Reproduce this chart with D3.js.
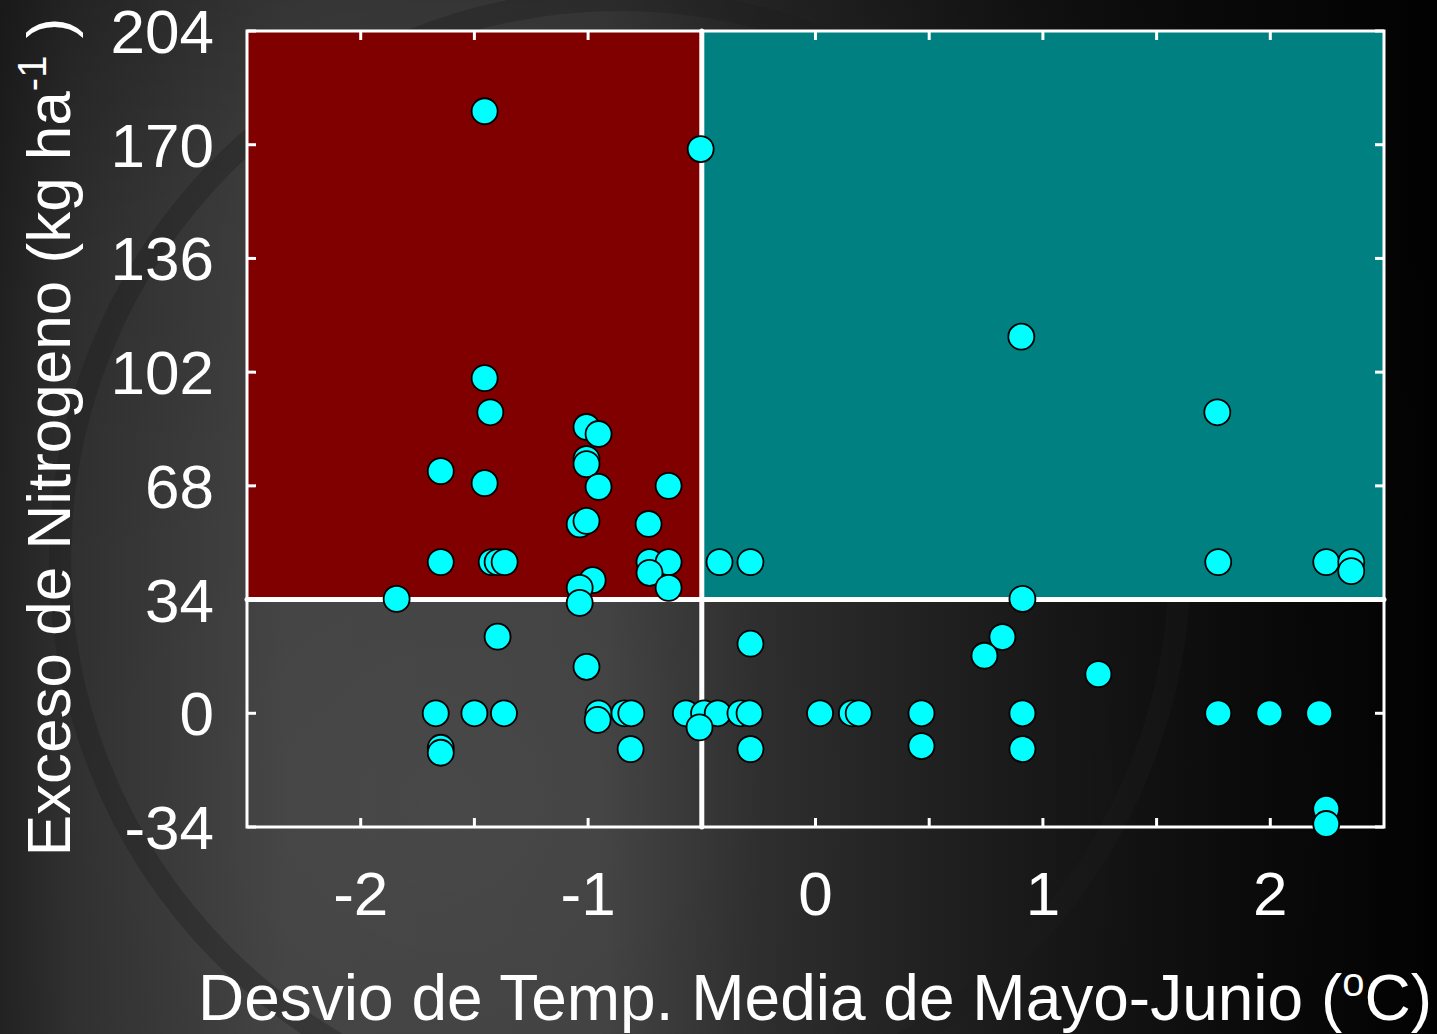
<!DOCTYPE html>
<html>
<head>
<meta charset="utf-8">
<script src="https://cdn.jsdelivr.net/npm/d3@7"></script>
<style>
  body { margin: 0; background: #000; }
  svg { display: block; }
  text { font-family: "Liberation Sans", Arial, sans-serif; fill: #fff; }
</style>
</head>
<body>
<div id="chart"></div>
<script>
// temperature deviation (x) and nitrogen excess (y) per site
const tempDev = [
  -1.455, -0.505, 0.905, 1.767, -1.455, -1.43, -1.007, -0.954, -1.648, -1.455,
  -1.007, -1.007, -0.954, -0.646, -1.037, -1.007, -0.734,
  -1.648, -1.424, -1.398, -1.367, -0.73, -0.646, -0.73, -0.646,
  -0.98, -1.037, -1.037, -1.842,
  -0.422, -0.286, 0.91, -0.286, 0.822, 0.743, -1.398, -1.007, 1.244,
  -1.67, -1.5, -1.37, -0.954, -0.84, -0.81, -0.57, -0.49, -0.43, -0.33, -0.29,
  0.02, 0.16, 0.19, 0.466, 0.91, 1.771, 1.996, 2.215,
  -0.51, -0.958, -1.648, -1.648, -0.813, -0.286, 0.466, 0.91,
  1.771, 2.246, 2.356, 2.356, 2.246, 2.246
];
const nExcess = [
  180, 168.7, 112.6, 90, 100.2, 90, 85.6, 83.5, 72.4, 68.8,
  76, 74.5, 67.7, 68, 56.5, 57.5, 56.6,
  45.2, 45.2, 45.2, 45.2, 45.2, 45.2, 42, 37.5,
  39.8, 37.5, 33, 34.2,
  45.2, 45.2, 34.2, 20.8, 22.8, 17.2, 22.9, 13.9, 11.7,
  0, 0, 0, 0, 0, 0, 0, 0, 0, 0, 0,
  0, 0, 0, 0, 0, 0, 0, 0,
  -4.2, -2, -10.3, -11.8, -10.7, -10.7, -9.8, -10.7,
  45.2, 45.2, 45.2, 42.5, -28.6, -33.1
];
const xTicks = [-2, -1, 0, 1, 2];
const xMinorTicks = [-2, -1.5, -1, -0.5, 0, 0.5, 1, 1.5, 2];
const yTicks = [-34, 0, 34, 68, 102, 136, 170, 204];
const xSplit = -0.5;
const ySplit = 34;

const W = 1437, H = 1034;
const margin = { left: 247, right: 53, top: 31, bottom: 207 };
const iw = W - margin.left - margin.right;
const ih = H - margin.top - margin.bottom;

const svg = d3.select('#chart').append('svg')
  .attr('width', W)
  .attr('height', H);

// background: grey on the left, fading to black on the right
const defs = svg.append('defs');
const bg = defs.append('linearGradient')
  .attr('id', 'bg')
  .attr('x1', 0).attr('x2', 1).attr('y1', 0).attr('y2', 0);
[[0, '#262626'], [0.05, '#353535'], [0.2, '#4a4949'], [0.42, '#484747'],
 [0.53, '#333233'], [0.75, '#1a1919'], [1, '#040404']].forEach(s => {
  bg.append('stop').attr('offset', s[0]).attr('stop-color', s[1]);
});
svg.append('rect').attr('width', W).attr('height', H).attr('fill', 'url(#bg)');

const shade = defs.append('radialGradient')
  .attr('id', 'shade')
  .attr('gradientUnits', 'userSpaceOnUse')
  .attr('cx', 450).attr('cy', 800).attr('r', 1100);
shade.append('stop').attr('offset', '0%').attr('stop-color', '#000').attr('stop-opacity', 0);
shade.append('stop').attr('offset', '60%').attr('stop-color', '#000').attr('stop-opacity', 0.15);
shade.append('stop').attr('offset', '100%').attr('stop-color', '#000').attr('stop-opacity', 0.5);
svg.append('rect').attr('width', W).attr('height', H).attr('fill', 'url(#shade)');

// faint dark arc on the left
svg.append('circle').attr('cx', 620).attr('cy', 560).attr('r', 560)
  .attr('fill', 'none').attr('stroke', '#1e1e1e').attr('stroke-opacity', 0.35).attr('stroke-width', 22);

const g = svg.append('g').attr('transform', `translate(${margin.left},${margin.top})`);

const x = d3.scaleLinear().domain([-2.5, 2.5]).range([0, iw]);
const y = d3.scaleLinear().domain([-34, 204]).range([ih, 0]);

// quadrants
g.append('rect')
  .attr('x', x(-2.5)).attr('y', y(204))
  .attr('width', x(xSplit) - x(-2.5)).attr('height', y(ySplit) - y(204))
  .attr('fill', '#800000');
g.append('rect')
  .attr('x', x(xSplit)).attr('y', y(204))
  .attr('width', x(2.5) - x(xSplit)).attr('height', y(ySplit) - y(204))
  .attr('fill', '#008080');

// ticks (inside, all four sides)
const tl = 9;
const tickG = g.append('g').attr('stroke', '#fff').attr('stroke-width', 3);
xMinorTicks.forEach(t => {
  tickG.append('line').attr('x1', x(t)).attr('x2', x(t)).attr('y1', ih).attr('y2', ih - tl);
  tickG.append('line').attr('x1', x(t)).attr('x2', x(t)).attr('y1', 0).attr('y2', tl);
});
yTicks.forEach(t => {
  tickG.append('line').attr('x1', 0).attr('x2', tl).attr('y1', y(t)).attr('y2', y(t));
  tickG.append('line').attr('x1', iw).attr('x2', iw - tl).attr('y1', y(t)).attr('y2', y(t));
});

// frame
g.append('rect').attr('width', iw).attr('height', ih)
  .attr('fill', 'none').attr('stroke', '#fff').attr('stroke-width', 3);

// split lines
g.append('line')
  .attr('x1', x(xSplit)).attr('x2', x(xSplit)).attr('y1', 0).attr('y2', ih)
  .attr('stroke', '#fff').attr('stroke-width', 5).attr('stroke-linecap', 'round');
g.append('line')
  .attr('x1', 0).attr('x2', iw).attr('y1', y(ySplit)).attr('y2', y(ySplit))
  .attr('stroke', '#fff').attr('stroke-width', 5).attr('stroke-linecap', 'round');

// points
const pts = tempDev.map((d, i) => ({ x: d, y: nExcess[i] }));
g.selectAll('.pt')
  .data(pts)
  .enter()
  .append('circle')
  .attr('class', 'pt')
  .attr('cx', d => x(d.x))
  .attr('cy', d => y(d.y))
  .attr('r', 13)
  .attr('fill', '#00ffff')
  .attr('stroke', '#000')
  .attr('stroke-width', 1.8);

// tick labels
g.selectAll('.xl')
  .data(xTicks)
  .enter()
  .append('text')
  .attr('x', d => x(d))
  .attr('y', ih + 88)
  .attr('text-anchor', 'middle')
  .attr('font-size', 62)
  .text(d => d);

g.selectAll('.yl')
  .data(yTicks)
  .enter()
  .append('text')
  .attr('x', -33)
  .attr('y', d => y(d) + 22)
  .attr('text-anchor', 'end')
  .attr('font-size', 62)
  .text(d => d);

// axis titles
const xt = svg.append('text')
  .attr('x', 815)
  .attr('y', 1020)
  .attr('text-anchor', 'middle')
  .attr('font-size', 64);
xt.append('tspan').text('Desvio de Temp. Media de Mayo-Junio (');
xt.append('tspan').attr('dy', -24).attr('font-size', 40).text('o');
xt.append('tspan').attr('dy', 24).text('C)');

const yt = svg.append('text')
  .attr('transform', `translate(70,${437}) rotate(-90)`)
  .attr('text-anchor', 'middle')
  .attr('font-size', 62);
yt.append('tspan').text('Exceso de Nitrogeno (kg ha');
yt.append('tspan').attr('dy', -24).attr('font-size', 40).text('-1');
yt.append('tspan').attr('dy', 24).text(' )');
</script>
</body>
</html>
